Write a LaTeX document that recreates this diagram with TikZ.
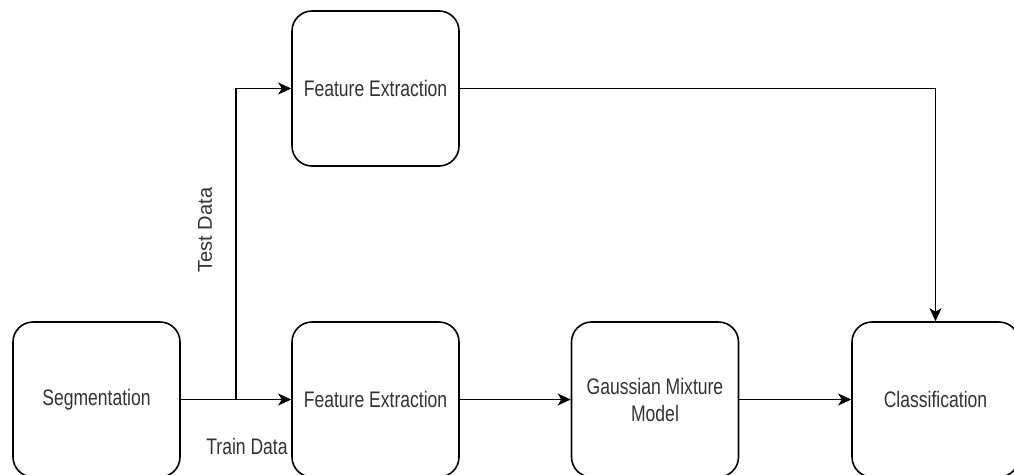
\documentclass[tikz,border=0pt]{standalone}
\usepackage{fontspec}
\setmainfont{Liberation Sans}
\usetikzlibrary{arrows.meta}
\newcommand{\nar}[1]{\scalebox{0.78}[1]{#1}}
\tikzset{
  stage/.style={draw=black, line width=1.6pt, rounded corners=20pt,
    minimum width=167pt, minimum height=155pt, inner sep=0pt,
    align=center, text=black!80, font=\fontsize{22.5}{27}\selectfont},
  flow/.style={draw=black, line width=1.6pt,
    -{Stealth[length=13pt,width=12pt,inset=3.5pt]}},
  lbl/.style={text=black!80, inner sep=0pt, font=\fontsize{22.5}{27}\selectfont}
}
\begin{document}
\begin{tikzpicture}[x=1pt,y=-1pt]
\useasboundingbox (0,0) rectangle (1014,474);
\fill[white] (0,0) rectangle (1014,474);

% processing stages
\node[stage] (seg) at (96.5,399.5) {\nar{Segmentation}};
\node[stage] (feTrain) at (375.5,399.5) {\nar{Feature Extraction}};
\node[stage] (gmm) at (655,399.5) {\nar{Gaussian Mixture}\\\nar{Model}};
\node[stage] (cls) at (935.5,399.5) {\nar{Classification}};
\node[stage] (feTest) at (375.5,88.5) {\nar{Feature Extraction}};

% split of the segmented data into train and test
\coordinate (split) at (236,399.5);
\draw[flow] (seg) -- (feTrain);
\draw[flow] (split) |- (feTest.west);
\draw[flow] (feTrain) -- (gmm);
\draw[flow] (gmm) -- (cls);
\draw[flow] (feTest.east) -| (cls.north);

% branch labels
\node[lbl, rotate=90, font=\fontsize{20}{24}\selectfont] (testlbl) at (205,230) {Test Data};
\node[lbl] (trainlbl) at (247,446) {\nar{Train Data}};
\end{tikzpicture}
\end{document}
